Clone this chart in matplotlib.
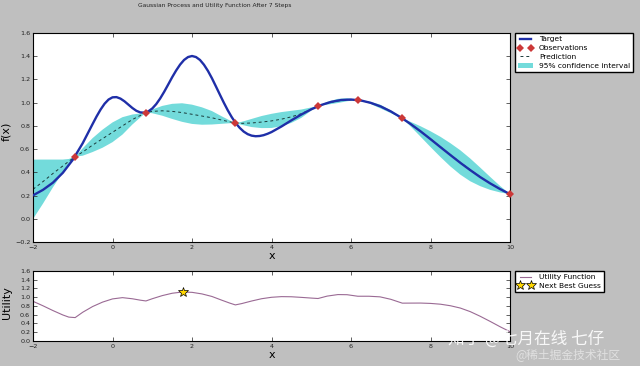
import matplotlib.pyplot as plt

# target function, sampled along x (denser around the sharp peaks)
target_x = [-2.0, -1.75, -1.5, -1.25, -1.0, -0.75,
            -0.5, -0.4, -0.3, -0.2, -0.1, 0.0, 0.1, 0.2, 0.3, 0.4,
            0.5, 0.6, 0.7, 0.8, 0.9, 1.0, 1.1, 1.2, 1.3, 1.4,
            1.5, 1.6, 1.7, 1.8, 1.9, 2.0, 2.1, 2.2, 2.3, 2.4,
            2.5, 2.6, 2.7, 2.8, 2.9, 3.0, 3.1, 3.2, 3.3, 3.4,
            3.5, 3.6, 3.7, 3.8, 3.9, 4.0,
            4.25, 4.5, 4.75, 5.0, 5.25, 5.5, 5.75, 6.0, 6.25, 6.5, 6.75,
            7.0, 7.25, 7.5, 7.75, 8.0, 8.25, 8.5, 8.75, 9.0, 9.25, 9.5, 9.75, 10.0]
target_y = [0.202, 0.249, 0.311, 0.396, 0.508, 0.651,
            0.817, 0.882, 0.941, 0.991, 1.027, 1.046, 1.048, 1.035, 1.012, 0.983,
            0.954, 0.930, 0.916, 0.914, 0.925, 0.950, 0.988, 1.037, 1.094, 1.156,
            1.219, 1.277, 1.328, 1.368, 1.393, 1.402, 1.393, 1.368, 1.327, 1.274,
            1.211, 1.141, 1.070, 1.000, 0.934, 0.875, 0.824, 0.783, 0.751, 0.729,
            0.716, 0.711, 0.713, 0.720, 0.732, 0.747,
            0.795, 0.848, 0.898, 0.943, 0.980, 1.007, 1.023, 1.027, 1.019, 0.998, 0.967,
            0.925, 0.874, 0.816, 0.753, 0.686, 0.617, 0.549, 0.482, 0.419, 0.359, 0.305, 0.256, 0.212]

# observed points
obs_x = [-0.94, 0.84, 3.09, 5.17, 6.17, 7.29, 10.0]
obs_y = [0.535, 0.915, 0.825, 0.971, 1.023, 0.865, 0.212]

# gaussian process prediction, 95% band and utility
gp_x = [-2.0, -1.75, -1.5, -1.25, -1.1, -0.94, -0.75, -0.5, -0.25, 0.0, 0.25, 0.5, 0.7, 0.84,
        1.0, 1.25, 1.5, 1.75, 2.0, 2.25, 2.5, 2.75, 2.95, 3.09,
        3.25, 3.5, 3.75, 4.0, 4.25, 4.5, 4.75, 5.0, 5.17,
        5.4, 5.67, 5.9, 6.17, 6.45, 6.73, 7.0, 7.29,
        7.5, 7.75, 8.0, 8.25, 8.5, 8.75, 9.0, 9.25, 9.5, 9.75, 10.0]
gp_mean = [0.254, 0.320, 0.390, 0.455, 0.495, 0.535, 0.575, 0.635, 0.690, 0.745, 0.800, 0.855, 0.890, 0.915,
           0.925, 0.930, 0.925, 0.915, 0.900, 0.885, 0.870, 0.850, 0.835, 0.825,
           0.822, 0.825, 0.833, 0.843, 0.858, 0.878, 0.905, 0.945, 0.971,
           0.995, 1.015, 1.025, 1.023, 1.003, 0.968, 0.922, 0.865,
           0.815, 0.752, 0.686, 0.619, 0.551, 0.485, 0.421, 0.361, 0.305, 0.255, 0.212]
ci_upper = [0.510, 0.510, 0.510, 0.510, 0.515, 0.535, 0.607, 0.695, 0.768, 0.830, 0.875, 0.898, 0.907, 0.915,
            0.941, 0.972, 0.990, 0.995, 0.983, 0.960, 0.928, 0.882, 0.847, 0.825,
            0.835, 0.860, 0.885, 0.904, 0.919, 0.930, 0.941, 0.959, 0.971,
            1.007, 1.033, 1.038, 1.023, 1.011, 0.984, 0.934, 0.865,
            0.835, 0.797, 0.754, 0.706, 0.651, 0.590, 0.519, 0.441, 0.361, 0.283, 0.212]
ci_lower = [-0.002, 0.130, 0.270, 0.400, 0.475, 0.535, 0.543, 0.575, 0.612, 0.660, 0.725, 0.812, 0.873, 0.915,
            0.909, 0.888, 0.860, 0.835, 0.817, 0.810, 0.812, 0.818, 0.823, 0.825,
            0.809, 0.790, 0.781, 0.782, 0.797, 0.826, 0.869, 0.931, 0.971,
            0.983, 0.997, 1.012, 1.023, 0.995, 0.952, 0.910, 0.865,
            0.795, 0.707, 0.618, 0.532, 0.451, 0.380, 0.323, 0.281, 0.249, 0.227, 0.212]
utility = [0.907, 0.805, 0.696, 0.595, 0.546, 0.535, 0.657, 0.788, 0.889, 0.962, 0.991, 0.965, 0.933, 0.915,
           0.966, 1.037, 1.091, 1.119, 1.112, 1.076, 1.018, 0.932, 0.866, 0.825,
           0.855, 0.914, 0.966, 0.999, 1.014, 1.011, 0.997, 0.981, 0.971,
           1.026, 1.061, 1.058, 1.023, 1.023, 1.009, 0.953, 0.865,
           0.866, 0.867, 0.859, 0.841, 0.806, 0.753, 0.671, 0.565, 0.448, 0.326, 0.212]

next_x = 1.77
next_u = 1.12

xticks = [-2, 0, 2, 4, 6, 8, 10]
top_yticks = [-0.2, 0.0, 0.2, 0.4, 0.6, 0.8, 1.0, 1.2, 1.4, 1.6]
bot_yticks = [0.0, 0.2, 0.4, 0.6, 0.8, 1.0, 1.2, 1.4, 1.6]

fig = plt.figure(figsize=(6.4, 3.66), dpi=100, facecolor='#bfbfbf')
ax = fig.add_axes([0.0516, 0.3388, 0.7453, 0.571])
ax2 = fig.add_axes([0.0516, 0.0683, 0.7453, 0.1913])

# top panel
ax.fill_between(gp_x, ci_lower, ci_upper, facecolor='c', alpha=0.55, edgecolor='none',
                label='95% confidence interval', zorder=1)
ax.plot(target_x, target_y, color='#1f2fa8', lw=1.7, label='Target', zorder=3)
ax.plot(obs_x, obs_y, 'D', color='#cc3838', markersize=3.8, markeredgewidth=0,
        label='Observations', zorder=5, clip_on=False)
ax.plot(gp_x, gp_mean, '--', color='#1a3a3a', lw=0.7, dashes=(3, 3), label='Prediction', zorder=2)

ax.set_xlim(-2, 10)
ax.set_ylim(-0.2, 1.6)
ax.set_xticks(xticks)
ax.set_yticks(top_yticks)
ax.set_xlabel('x', fontsize=8, labelpad=1)
ax.set_ylabel('f(x)', fontsize=8)
ax.yaxis.set_label_coords(-0.045, 0.53)

handles, labels = ax.get_legend_handles_labels()
order = [1, 2, 3, 0]
ax.legend([handles[i] for i in order], [labels[i] for i in order],
          loc='upper left', bbox_to_anchor=(1.01, 1.0), borderaxespad=0,
          fontsize=5.4, numpoints=2, fancybox=False, edgecolor='black',
          framealpha=1, handlelength=2.0, borderpad=0.4, labelspacing=0.35)

# bottom panel
ax2.plot(gp_x, utility, color='#9a6a94', lw=0.8, label='Utility Function')
ax2.plot([next_x], [next_u], '*', markersize=7, markerfacecolor='gold',
         markeredgecolor='k', markeredgewidth=0.5, label='Next Best Guess')
ax2.set_xlim(-2, 10)
ax2.set_ylim(0, 1.6)
ax2.set_xticks(xticks)
ax2.set_yticks(bot_yticks)
ax2.set_xlabel('x', fontsize=8, labelpad=1)
ax2.set_ylabel('Utility', fontsize=8)
ax2.yaxis.set_label_coords(-0.044, 0.55)
ax2.legend(loc='upper left', bbox_to_anchor=(1.01, 1.0), borderaxespad=0,
           fontsize=5.4, numpoints=2, fancybox=False, edgecolor='black',
           framealpha=1, handlelength=2.0, borderpad=0.4, labelspacing=0.35)

for a in (ax, ax2):
    a.set_facecolor('white')
    a.tick_params(direction='in', top=True, right=True, length=3, width=0.5,
                  labelsize=4.6, pad=2, colors='#222222')
    for s in a.spines.values():
        s.set_linewidth(0.8)

fig.text(0.336, 0.985, 'Gaussian Process and Utility Function After 7 Steps',
         fontsize=4.3, ha='center', va='center', color='#222222')

# watermarks
cjk = ['Noto Sans CJK SC', 'DejaVu Sans']
fig.text(0.70, 1 - 339 / 366, '知乎 @七月在线 七仔', fontsize=12, color='white',
         alpha=0.9, family=cjk, ha='left', va='center')
fig.text(0.805, 1 - 355 / 366, '@稀土掘金技术社区', fontsize=8.5, color='#e4e4e4',
         alpha=0.9, family=cjk, ha='left', va='center')

fig.savefig('out.png', dpi=100, facecolor=fig.get_facecolor())
